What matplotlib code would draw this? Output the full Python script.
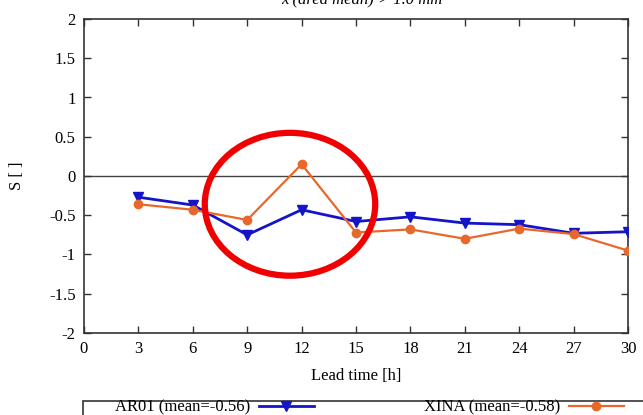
import matplotlib
matplotlib.use("Agg")
import matplotlib.pyplot as plt
from matplotlib.patches import Ellipse, Rectangle

plt.rcParams["font.family"] = ["Liberation Serif", "DejaVu Serif"]

lead_time = [3, 6, 9, 12, 15, 18, 21, 24, 27, 30]
ar01 = [-0.27, -0.37, -0.75, -0.43, -0.58, -0.52, -0.60, -0.62, -0.73, -0.71]
xina = [-0.36, -0.43, -0.56, 0.15, -0.72, -0.68, -0.80, -0.67, -0.74, -0.95]
x_ticks = [0, 3, 6, 9, 12, 15, 18, 21, 24, 27, 30]
y_ticks = [-2, -1.5, -1, -0.5, 0, 0.5, 1, 1.5, 2]
y_tick_labels = ["-2", "-1.5", "-1", "-0.5", "0", "0.5", "1", "1.5", "2"]
ar01_label = "AR01 (mean=-0.56)"
xina_label = "XINA (mean=-0.58)"

W, H = 643, 415
fig = plt.figure(figsize=(W / 100, H / 100), dpi=100)
ax = fig.add_axes([84 / W, 1 - 333 / H, (628 - 84) / W, (333 - 19) / H])

ax.axhline(0, color="#444444", lw=1.0, zorder=1)
l_ar, = ax.plot(lead_time, ar01, color="#1414c8", lw=2.0, marker="v",
                markersize=7, zorder=3, label=ar01_label)
l_xi, = ax.plot(lead_time, xina, color="#e8682c", lw=1.6, marker="o",
                markersize=6, zorder=4, label=xina_label)

ax.set_xlim(0, 30)
ax.set_ylim(-2, 2)
ax.set_xticks(x_ticks)
ax.set_yticks(y_ticks)
ax.set_yticklabels(y_tick_labels)
ax.tick_params(direction="in", top=True, right=True, length=5, width=1,
               labelsize=12, pad=6, color="#333333")
for s in ax.spines.values():
    s.set_color("#333333")
    s.set_linewidth(1.2)

ax.set_xlabel("Lead time [h]", fontsize=12, labelpad=8)
ax.set_ylabel("S [ ]", fontsize=12, labelpad=17)

# highlight around the 12 h peak
ax.add_patch(Ellipse((11.36, -0.36), 9.4, 1.82, fill=False, edgecolor="#f00000",
                     lw=4.5, zorder=5, clip_on=False))

# heading, partly above the page edge
fig.text(362 / W, 1 - 4 / H, "x (area mean) > 1.0 mm", ha="center",
         va="baseline", fontsize=12, style="italic")

# key box along the bottom
fig.patches.append(Rectangle((83 / W, -0.1), 1.0, 0.1 + (415 - 401) / H,
                             transform=fig.transFigure, fill=False,
                             edgecolor="#333333", lw=1.2))
leg_y = 1 - 407.5 / H
fig.legend(handles=[l_ar], loc="center right", bbox_to_anchor=(322 / W, leg_y),
           frameon=False, markerfirst=False, fontsize=12, handlelength=3.3,
           borderpad=0, handletextpad=0.5)
fig.legend(handles=[l_xi], loc="center right", bbox_to_anchor=(632 / W, leg_y),
           frameon=False, markerfirst=False, fontsize=12, handlelength=3.3,
           borderpad=0, handletextpad=0.5)

fig.savefig("out.png", dpi=100)
